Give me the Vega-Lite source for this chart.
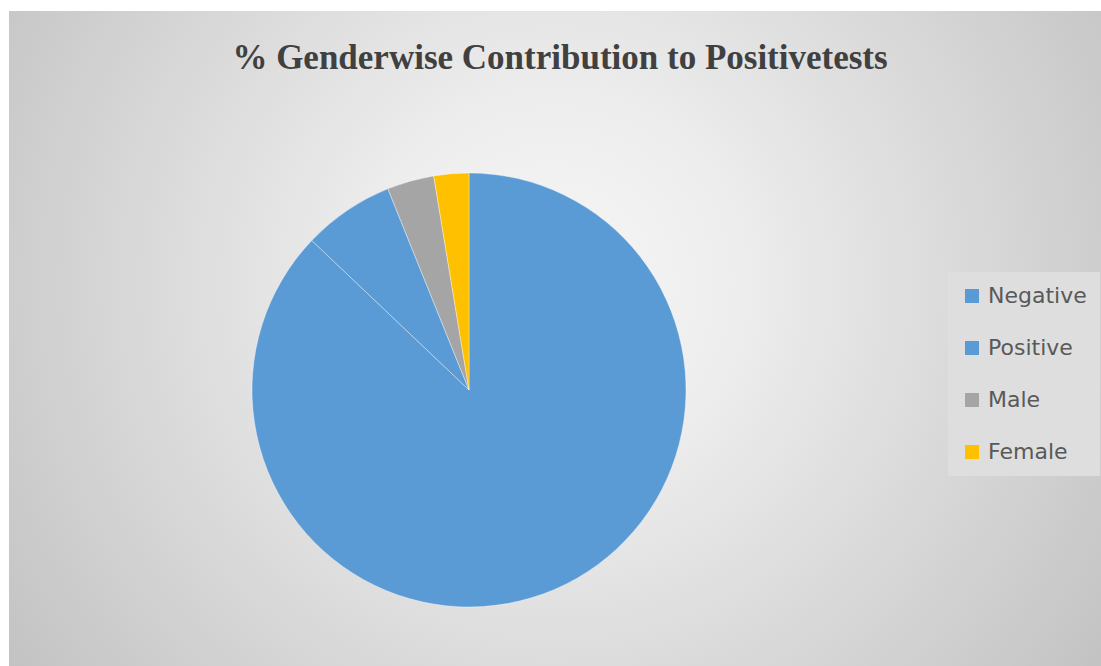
{
  "$schema": "https://vega.github.io/schema/vega-lite/v6.json",
  "autosize": {"type": "none"},
  "width": 1092,
  "height": 655,
  "padding": {"left": 9, "top": 11, "right": 0, "bottom": 0},
  "background": "#ffffff",
  "config": {"view": {"stroke": null}},
  "title": {
    "text": "% Genderwise Contribution to Positivetests",
    "font": "Liberation Serif",
    "fontSize": 35,
    "fontWeight": "bold",
    "color": "#404040",
    "anchor": "middle",
    "baseline": "bottom",
    "offset": -63,
    "dx": 5,
    "dy": 37
  },
  "layer": [
    {
      "data": {"values": [{}]},
      "mark": {
        "type": "rect",
        "color": {
          "gradient": "radial",
          "x1": 0.5, "y1": 0.45, "r1": 0,
          "x2": 0.5, "y2": 0.45, "r2": 0.64,
          "stops": [
            {"offset": 0, "color": "#f6f6f6"},
            {"offset": 0.25, "color": "#eeeeee"},
            {"offset": 1, "color": "#c0c0c0"}
          ]
        }
      },
      "encoding": {}
    },
    {
      "data": {
        "values": [
          {"category": "Negative", "percent": 87.1, "idx": 1},
          {"category": "Positive", "percent": 6.8, "idx": 2},
          {"category": "Male", "percent": 3.5, "idx": 3},
          {"category": "Female", "percent": 2.6, "idx": 4}
        ]
      },
      "mark": {
        "type": "arc",
        "radius": 217,
        "xOffset": -86,
        "yOffset": 51.5,
        "stroke": "#ffffff",
        "strokeWidth": 0.8,
        "strokeOpacity": 0.45
      },
      "encoding": {
        "theta": {"field": "percent", "type": "quantitative", "stack": true},
        "order": {"field": "idx", "type": "quantitative"},
        "color": {
          "field": "category",
          "type": "nominal",
          "sort": ["Negative", "Positive", "Male", "Female"],
          "scale": {
            "domain": ["Negative", "Positive", "Male", "Female"],
            "range": ["#5b9bd5", "#5b9bd5", "#a5a5a5", "#ffc000"]
          },
          "legend": {
            "title": null,
            "orient": "none",
            "legendX": 939,
            "legendY": 261,
            "padding": 13,
            "fillColor": "#dedede",
            "symbolType": "square",
            "symbolSize": 196,
            "symbolStrokeWidth": 0,
            "labelFont": "DejaVu Sans",
            "labelFontSize": 22,
            "labelColor": "#595959",
            "labelOffset": 5,
            "rowPadding": 30
          }
        }
      }
    }
  ]
}
